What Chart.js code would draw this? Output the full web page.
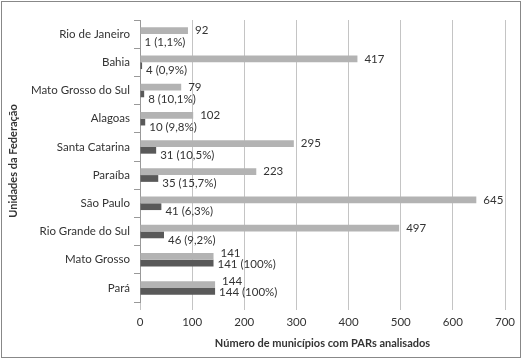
<!DOCTYPE html>
<html>
<head>
<meta charset="utf-8">
<script src="https://cdn.jsdelivr.net/npm/chart.js@4/dist/chart.umd.min.js"></script>
<style>
  html, body { margin: 0; padding: 0; background: #fff; }
  canvas { display: block; }
</style>
</head>
<body>
<canvas id="chart" width="522" height="359"></canvas>
<script>
const categories = ['Rio de Janeiro', 'Bahia', 'Mato Grosso do Sul', 'Alagoas', 'Santa Catarina',
  'Paraíba', 'São Paulo', 'Rio Grande do Sul', 'Mato Grosso', 'Pará'];
const analisados = [92, 417, 79, 102, 295, 223, 645, 497, 141, 144];
const comPar = [1, 4, 8, 10, 31, 35, 41, 46, 141, 144];
const percentuais = ['1,1%', '0,9%', '10,1%', '9,8%', '10,5%', '15,7%', '6,3%', '9,2%', '100%', '100%'];
const xTicks = [0, 100, 200, 300, 400, 500, 600, 700];

const FONT = 'Lato, "Open Sans", sans-serif';
const SIZE = 11.5;
const TEXT = '#333333';

// outer frame + white background
const framePlugin = {
  id: 'frame',
  beforeDraw(chart) {
    const ctx = chart.ctx;
    ctx.save();
    ctx.fillStyle = '#fff';
    ctx.fillRect(0, 0, chart.width, chart.height);
    ctx.strokeStyle = '#888';
    ctx.lineWidth = 1;
    ctx.strokeRect(1.5, 1.5, chart.width - 3, chart.height - 3);
    ctx.restore();
  }
};

// value labels next to the bars
const labelPlugin = {
  id: 'barLabels',
  afterDatasetsDraw(chart) {
    const ctx = chart.ctx;
    const light = chart.getDatasetMeta(0).data;
    const dark = chart.getDatasetMeta(1).data;
    ctx.save();
    ctx.font = SIZE + 'px ' + FONT;
    ctx.fillStyle = TEXT;
    ctx.textAlign = 'left';
    ctx.textBaseline = 'middle';
    light.forEach((bar, i) => {
      const d = dark[i];
      const close = Math.abs(bar.x - d.x) < 30;
      ctx.fillText(String(analisados[i]), bar.x + 7, bar.y + (close ? -3 : 0));
      ctx.fillText(comPar[i] + ' (' + percentuais[i] + ')', d.x + 4, d.y + (close ? 1 : 5));
    });
    ctx.restore();
  }
};

new Chart(document.getElementById('chart'), {
  type: 'bar',
  data: {
    labels: categories,
    datasets: [
      {
        label: 'PARs analisados',
        data: analisados,
        backgroundColor: '#b3b3b3',
        categoryPercentage: 0.48,
        barPercentage: 1.0
      },
      {
        label: 'Municípios',
        data: comPar,
        backgroundColor: '#595959',
        categoryPercentage: 0.48,
        barPercentage: 1.0
      }
    ]
  },
  options: {
    indexAxis: 'y',
    responsive: false,
    animation: false,
    layout: { padding: { top: 20, right: 17, left: 0, bottom: 0 } },
    plugins: {
      legend: { display: false },
      tooltip: { enabled: false }
    },
    scales: {
      x: {
        min: 0,
        max: 700,
        afterBuildTicks: scale => { scale.ticks = xTicks.map(v => ({ value: v })); },
        afterFit: scale => { scale.height = 57; },
        grid: { color: '#c4c4c4', tickLength: 8, drawTicks: true },
        border: { display: false },
        ticks: { color: TEXT, font: { family: FONT, size: SIZE }, padding: 5 },
        title: {
          display: true,
          text: 'Número de municípios com PARs analisados',
          color: TEXT,
          font: { family: FONT, size: 11, weight: 'bold' },
          padding: { top: 0, bottom: 9 }
        }
      },
      y: {
        offset: true,
        afterFit: scale => { scale.width = 140; },
        grid: { drawOnChartArea: false, drawTicks: true, tickLength: 6, color: '#999', offset: true },
        border: { display: true, color: '#999' },
        ticks: { color: TEXT, font: { family: FONT, size: SIZE }, padding: 4 },
        title: {
          display: true,
          text: 'Unidades da Federação',
          color: TEXT,
          font: { family: FONT, size: 11, weight: 'bold' },
          padding: { top: 7, bottom: 0 }
        }
      }
    }
  },
  plugins: [framePlugin, labelPlugin]
});
</script>
</body>
</html>
